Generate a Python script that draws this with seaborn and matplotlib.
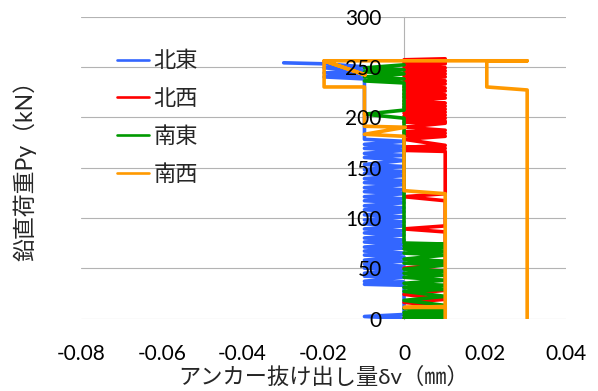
import matplotlib
matplotlib.use("Agg")
import matplotlib.pyplot as plt
from matplotlib.lines import Line2D
import seaborn as sns
import pandas as pd

# series labels and colours
series_names = ["北東", "北西", "南東", "南西"]
series_colors = ["#3366ff", "#ff0000", "#009900", "#ff9900"]

# 北東: displacement (mm) and load (kN) in measurement order
ne_x = [0.0, -0.0098, 0.0, 0.0,
        -0.0098, 0.0, -0.0098, 0.0, -0.0098, 0.0, -0.0098, 0.0, -0.0098, 0.0,
        -0.0098, 0.0, -0.0098, 0.0, -0.0098, 0.0, -0.0098, 0.0, -0.0098, 0.0,
        -0.0098, 0.0, -0.0098, 0.0, -0.0098, 0.0, -0.0098, 0.0, -0.0098, 0.0,
        -0.0098, 0.0, -0.0098, 0.0, -0.0098, 0.0, -0.0098, 0.0, -0.0098, 0.0,
        -0.0098, 0.0, -0.0098, 0.0, -0.0098, 0.0, -0.0098, 0.0, -0.0098, 0.0,
        -0.0098, 0.0, -0.0098, 0.0, -0.0098, 0.0, -0.0098, 0.0, -0.0098, 0.0,
        -0.0098, 0.0, -0.0098, 0.0, -0.0098,
        -0.0098, -0.0198, -0.0098, -0.0198, -0.0098, -0.0198, -0.0098, -0.0198, -0.0298]
ne_y = [0, 2, 4, 33,
        34, 36, 37, 41, 42, 44, 45, 48, 50, 52,
        54, 57, 58, 61, 63, 65, 67, 70, 71, 74,
        76, 78, 80, 83, 85, 87, 89, 92, 94, 96,
        98, 101, 103, 106, 108, 110, 112, 115, 117, 119,
        121, 124, 126, 128, 130, 133, 135, 137, 139, 142,
        144, 146, 148, 151, 153, 157, 160, 162, 164, 167,
        169, 171, 173, 176, 178,
        238, 240, 242, 244, 246, 249, 250, 253, 254]

# 北西
nw_x = [0.0, 0.0102, 0.0102, 0.0, 0.0102, 0.0, 0.0102, 0.0102, 0.0, 0.0102,
        0.0102, 0.0, 0.0102, 0.0102, 0.0, 0.0102, 0.0102,
        0.0, 0.0102, 0.0, 0.0102, 0.0, 0.0102, 0.0, 0.0102, 0.0, 0.0102, 0.0, 0.0102,
        0.0, 0.0102, 0.0, 0.0102, 0.0, 0.0102, 0.0, 0.0102, 0.0, 0.0102,
        0.0, 0.0102, 0.0, 0.0102, 0.0, 0.0102, 0.0, 0.0102, 0.0, 0.0102,
        0.0, 0.0102, 0.0, 0.0102, 0.0, 0.0102, 0.0, 0.0102, 0.0, 0.0102,
        0.0, 0.0102, 0.0, 0.0102, 0.0, 0.0102, 0.0, 0.0102, 0.0, 0.0102]
nw_y = [0, 3, 12, 16, 19, 24, 28, 47, 50, 54,
        86, 89, 92, 117, 121, 124, 166,
        167, 169, 170, 172, 178, 181, 182, 184, 185, 187, 190, 194,
        195, 196, 198, 199, 201, 202, 204, 205, 207, 208,
        210, 211, 213, 214, 216, 219, 220, 222, 223, 226,
        227, 229, 230, 233, 234, 236, 237, 240, 241, 243,
        244, 246, 247, 249, 250, 253, 254, 255, 257, 258]

# 南東
se_x = [0.0, 0.0102, 0.0, 0.0102, 0.0, 0.0102, 0.0, 0.0102, 0.0, 0.0102,
        0.0, 0.0102, 0.0, 0.0102, 0.0, 0.0102, 0.0, 0.0102, 0.0, 0.0102,
        0.0, 0.0102, 0.0, 0.0102, 0.0, 0.0102, 0.0, 0.0102, 0.0, 0.0102,
        0.0, 0.0102, 0.0,
        0.0, -0.0098, 0.0, 0.0, -0.0098, 0.0, -0.0098, 0.0, -0.0098, 0.0, -0.0098, 0.0]
se_y = [0, 1, 3, 4, 6, 8, 10, 13, 18, 22,
        27, 29, 31, 33, 35, 38, 41, 43, 45, 47,
        49, 53, 55, 57, 59, 63, 65, 67, 69, 71,
        72, 74, 75,
        199, 203, 207, 234, 236, 238, 240, 243, 245, 247, 249, 252]

# 南西
sw_x = [0.0102, 0.0102, 0.0, 0.0102, 0.0102, 0.0, 0.0, -0.0098, 0.0003, -0.0098,
        -0.0098, -0.0198, -0.0198, -0.0096, -0.0198, 0.0305, 0.0205, 0.0205, 0.0305, 0.0305]
sw_y = [0, 11, 11, 12, 124, 127, 181, 183, 190, 191,
        230, 230, 256, 242, 256, 256, 256, 230, 227, 0]

# axis ticks
y_ticks = [0, 50, 100, 150, 200, 250, 300]
x_ticks = [-0.08, -0.06, -0.04, -0.02, 0.0, 0.02, 0.04]
x_tick_labels = ["-0.08", "-0.06", "-0.04", "-0.02", "0", "0.02", "0.04"]

frames = []
for name, xs, ys in zip(series_names, [ne_x, nw_x, se_x, sw_x], [ne_y, nw_y, se_y, sw_y]):
    frames.append(pd.DataFrame({"dv": xs, "py": ys, "series": name, "step": range(len(xs))}))
df = pd.concat(frames, ignore_index=True)

sns.set_style("white")
plt.rcParams["font.family"] = ["Lato", "Noto Sans CJK JP", "DejaVu Sans"]

fig = plt.figure(figsize=(5.98, 3.91), dpi=100)
rect = [0.1355, 0.1854, 0.8102, 0.7724]
ax = fig.add_axes(rect)

sns.lineplot(data=df, x="dv", y="py", hue="series", hue_order=series_names,
             palette=series_colors, sort=False, estimator=None, units="series",
             linewidth=2.6, solid_joinstyle="round", solid_capstyle="round",
             legend=False, ax=ax)

ax.set_xlim(-0.08, 0.04)
ax.set_ylim(0, 300)
ax.set_yticks(y_ticks)
ax.set_xticks(x_ticks)
ax.set_xticklabels(x_tick_labels)

ax.set_axisbelow(True)
ax.yaxis.grid(True, color="#b3b3b3", linewidth=0.8)
ax.xaxis.grid(False)

for side in ["top", "right", "bottom"]:
    ax.spines[side].set_visible(False)
ax.spines["left"].set_position(("data", 0))
ax.spines["left"].set_color("#b3b3b3")
ax.spines["left"].set_linewidth(0.8)
ax.spines["left"].set_zorder(0.5)

ax.tick_params(axis="y", length=0, labelleft=False)
ax.tick_params(axis="x", length=0, pad=18, labelsize=15, colors="black")

ax.set_xlabel("アンカー抜け出し量δv（㎜）", fontsize=16)
ax.set_ylabel("鉛直荷重Py（kN）", fontsize=16.5)
ax.xaxis.set_label_coords(0.5, -0.159)
ax.yaxis.set_label_coords(-0.091, 0.508)

# value labels of the load axis sit on top of the curves
top = fig.add_axes(rect, sharey=ax)
top.set_xlim(-0.08, 0.04)
top.patch.set_visible(False)
for side in ["top", "right", "bottom", "left"]:
    top.spines[side].set_visible(False)
top.spines["left"].set_position(("data", 0))
top.set_xticks([])
top.tick_params(axis="y", length=0, pad=16, labelsize=15, colors="black")
top.grid(False)

handles = [Line2D([0], [0], color=c, linewidth=1.9) for c in series_colors]
top.legend(handles, series_names, loc="upper left", bbox_to_anchor=(0.1957, 0.8696),
           bbox_transform=fig.transFigure, frameon=False, fontsize=16,
           handlelength=1.45, handletextpad=0.2, labelspacing=0.785,
           borderpad=0, borderaxespad=0)

fig.savefig("out.png", dpi=100)
